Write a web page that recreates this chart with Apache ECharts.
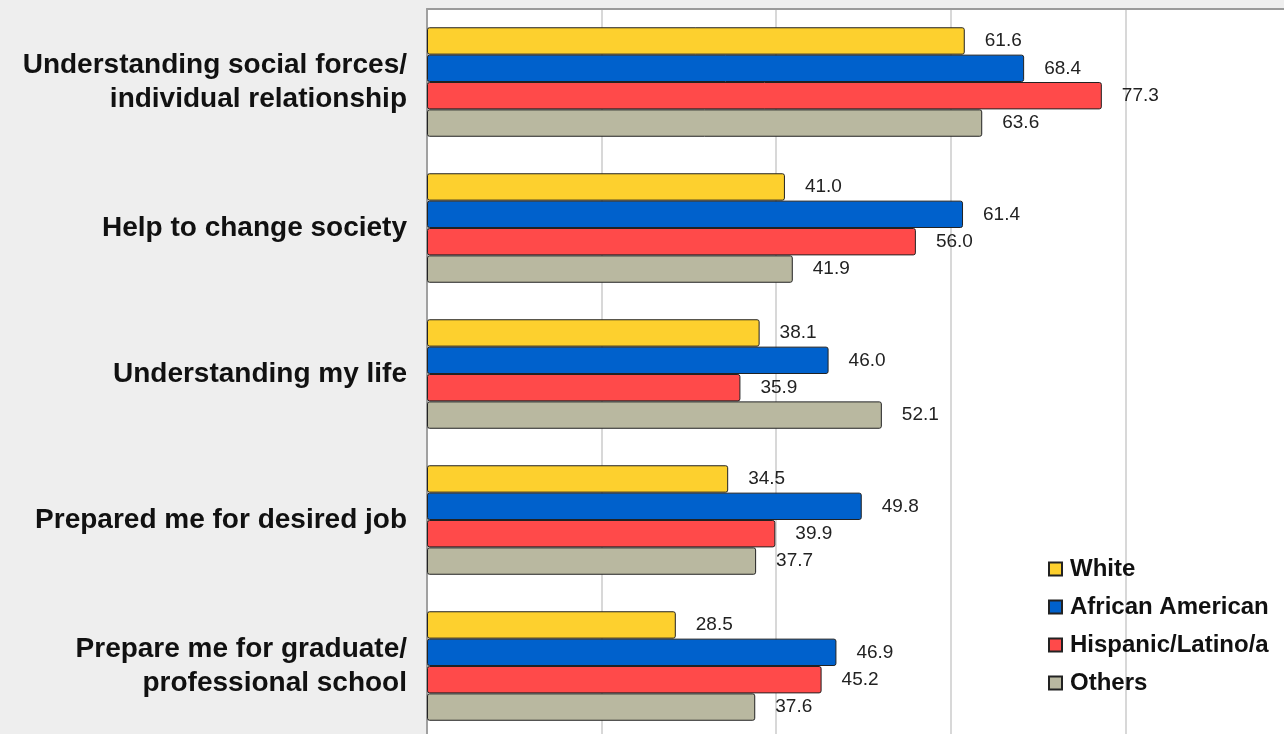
<!DOCTYPE html>
<html>
<head>
<meta charset="utf-8">
<script src="https://cdn.jsdelivr.net/npm/echarts@6/dist/echarts.min.js"></script>
<style>
  html, body { margin: 0; padding: 0; background: #eeeeee; }
  #chart { width: 1284px; height: 734px; }
</style>
</head>
<body>
<div id="chart"></div>
<script>
// Survey outcome categories, top to bottom
const categories = [
  'Understanding social forces/\nindividual relationship',
  'Help to change society',
  'Understanding my life',
  'Prepared me for desired job',
  'Prepare me for graduate/\nprofessional school'
];

// Percent agreeing, by group
const white = [61.6, 41.0, 38.1, 34.5, 28.5];
const africanAmerican = [68.4, 61.4, 46.0, 49.8, 46.9];
const hispanicLatino = [77.3, 56.0, 35.9, 39.9, 45.2];
const others = [63.6, 41.9, 52.1, 37.7, 37.6];

const seriesNames = ['White', 'African American', 'Hispanic/Latino/a', 'Others'];
const seriesValues = [white, africanAmerican, hispanicLatino, others];
const seriesColors = ['#fdd02e', '#0061cc', '#ff4a4a', '#b9b8a0'];

const FONT = 'Liberation Sans, Arial, Helvetica, sans-serif';

const chart = echarts.init(document.getElementById('chart'));

const series = seriesNames.map((name, i) => ({
  name: name,
  type: 'bar',
  data: seriesValues[i],
  barGap: '0%',
  barCategoryGap: '25%',
  itemStyle: {
    color: seriesColors[i],
    borderColor: '#222222',
    borderWidth: 1,
    borderRadius: 2
  },
  label: {
    show: true,
    position: 'right',
    distance: 20,
    color: '#222222',
    fontFamily: FONT,
    fontSize: 19,
    formatter: p => p.value.toFixed(1)
  }
}));

chart.setOption({
  backgroundColor: '#eeeeee',
  animation: false,
  grid: {
    left: 427,
    top: 9,
    right: -16,
    bottom: -5,
    outerBoundsMode: 'none',
    containLabel: false,
    show: true,
    backgroundColor: '#ffffff',
    borderWidth: 0
  },
  legend: {
    orient: 'vertical',
    left: 1043,
    top: 552,
    itemWidth: 13,
    itemHeight: 13,
    itemGap: 14,
    icon: 'rect',
    data: seriesNames,
    textStyle: {
      fontFamily: FONT,
      fontWeight: 'bold',
      fontSize: 24,
      color: '#111111',
      padding: [0, 0, 0, 3]
    }
  },
  xAxis: {
    type: 'value',
    position: 'top',
    min: 0,
    max: 100,
    interval: 20,
    axisLabel: { show: false },
    axisTick: { show: false },
    axisLine: { show: true, lineStyle: { color: '#9a9a9a', width: 2 } },
    splitLine: { show: true, lineStyle: { color: '#d8d8d8', width: 2 } }
  },
  yAxis: {
    type: 'category',
    data: categories,
    inverse: true,
    axisTick: { show: false },
    axisLine: { show: true, lineStyle: { color: '#a0a0a0', width: 2 } },
    axisLabel: {
      margin: 20,
      align: 'right',
      color: '#111111',
      fontFamily: FONT,
      fontWeight: 'bold',
      fontSize: 28,
      lineHeight: 34
    }
  },
  series: series
});
</script>
</body>
</html>
